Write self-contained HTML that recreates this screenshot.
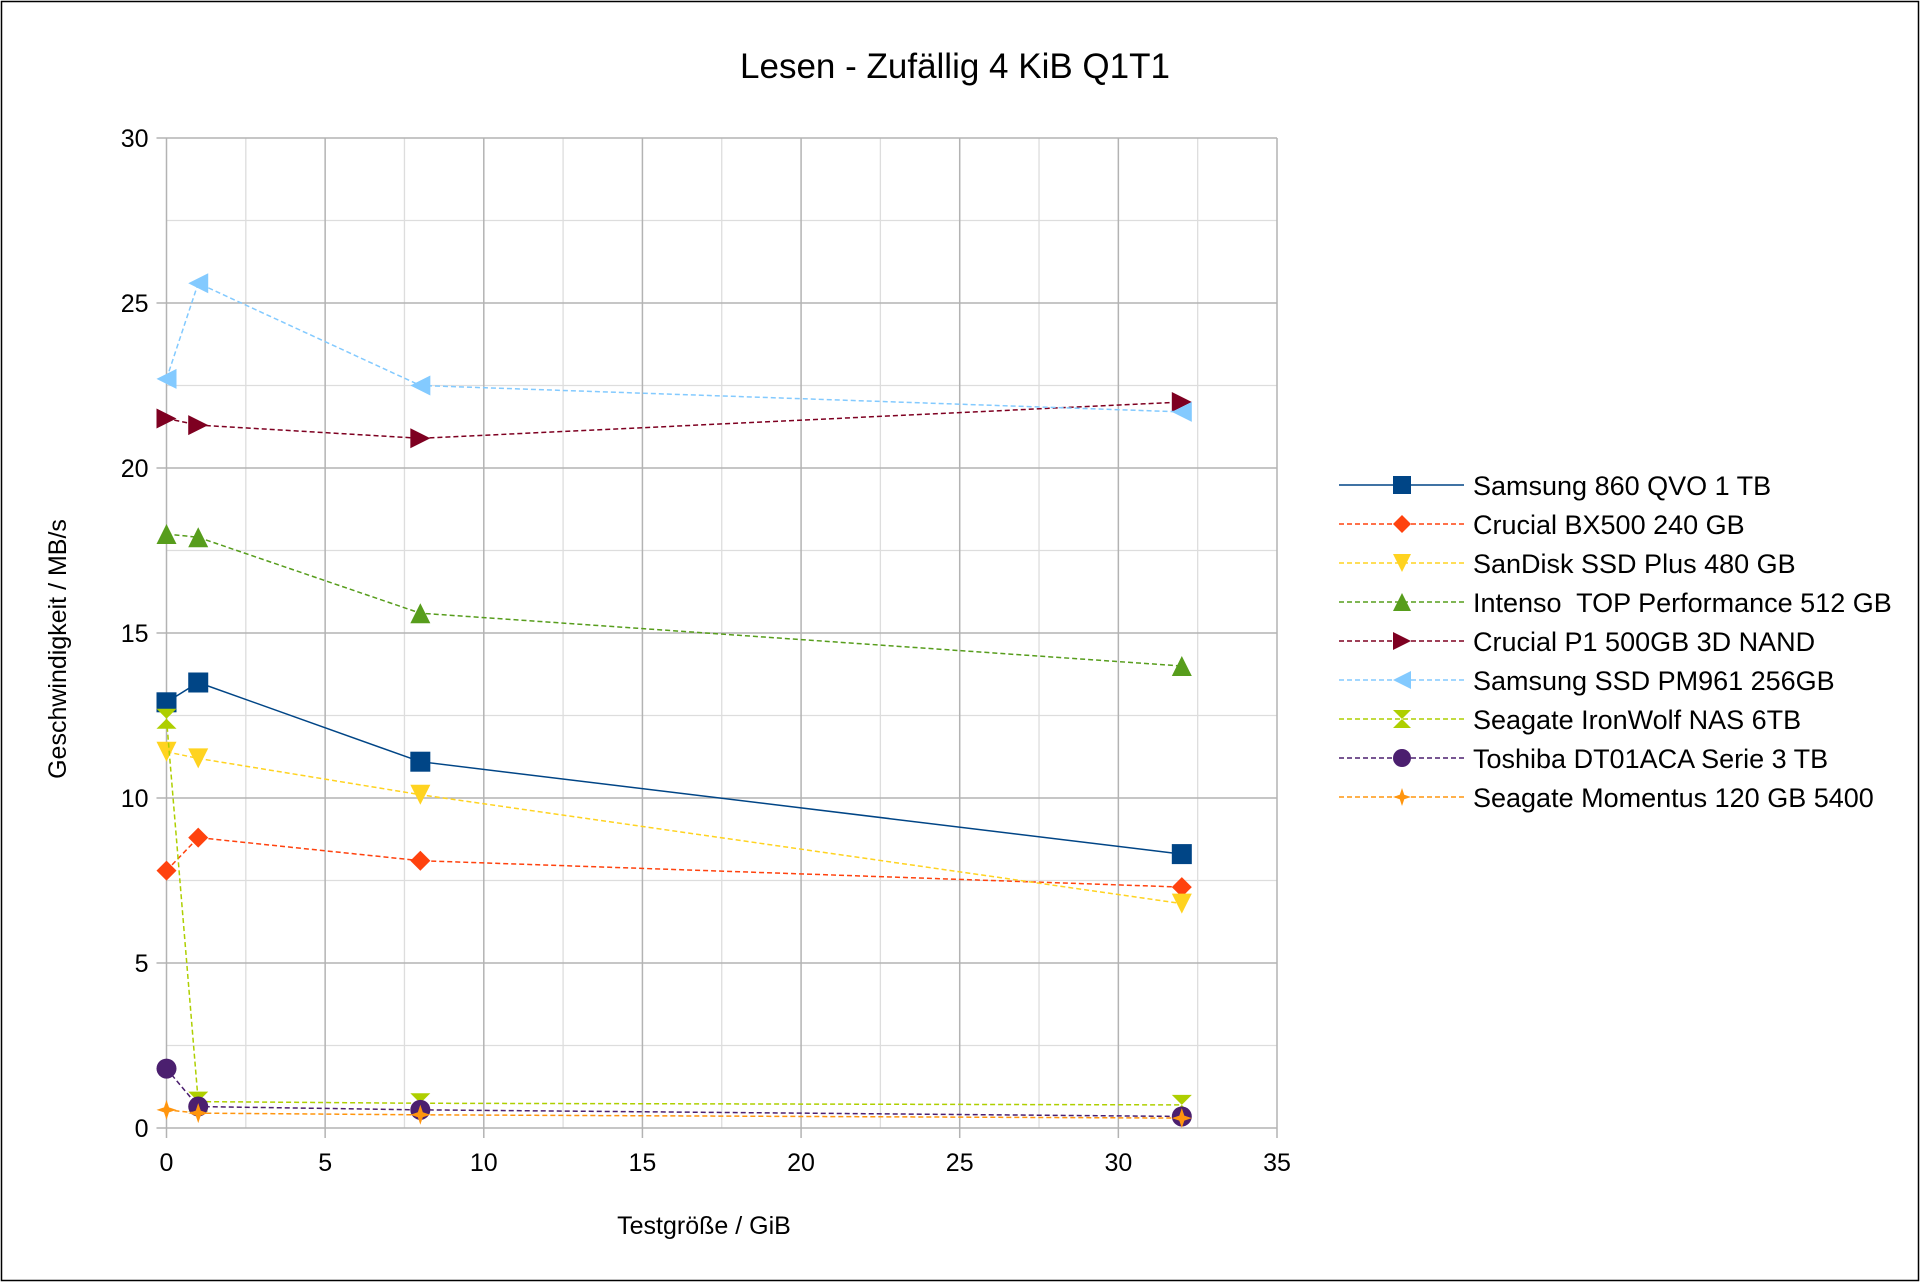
<!DOCTYPE html>
<html><head><meta charset="utf-8"><style>
body{margin:0;background:#fff}
svg text{font-family:"Liberation Sans",sans-serif;fill:#000}
</style></head><body>
<svg id="chart" width="1920" height="1282" xmlns="http://www.w3.org/2000/svg">
<rect x="1.5" y="1.5" width="1917" height="1279" fill="#fff" stroke="#000" stroke-width="1.5"/>
<text x="955" y="78" font-size="35" text-anchor="middle">Lesen - Zufällig 4 KiB Q1T1</text>
<g id="grid"></g><g id="axes"></g><g id="series"></g><g id="legend"></g>
<text transform="translate(66,649) rotate(-90)" font-size="25" text-anchor="middle">Geschwindigkeit / MB/s</text>
<text x="704" y="1234" font-size="25" text-anchor="middle">Testgröße / GiB</text>
</svg>
<script>
const xs=[0,1,8,32];
const names=["Samsung 860 QVO 1 TB","Crucial BX500 240 GB","SanDisk SSD Plus 480 GB","Intenso  TOP Performance 512 GB","Crucial P1 500GB 3D NAND","Samsung SSD PM961 256GB","Seagate IronWolf NAS 6TB","Toshiba DT01ACA Serie 3 TB","Seagate Momentus 120 GB 5400"];
const qvo=[12.9,13.5,11.1,8.3];
const bx500=[7.8,8.8,8.1,7.3];
const sandisk=[11.4,11.2,10.1,6.8];
const intenso=[18.0,17.9,15.6,14.0];
const p1=[21.5,21.3,20.9,22.0];
const pm961=[22.7,25.6,22.5,21.7];
const ironwolf=[12.4,0.8,0.75,0.7];
const toshiba=[1.8,0.65,0.55,0.35];
const momentus=[0.55,0.45,0.4,0.3];
const xTicks=[0,5,10,15,20,25,30,35];
const yTicks=[0,5,10,15,20,25,30];
const seriesData=[qvo,bx500,sandisk,intenso,p1,pm961,ironwolf,toshiba,momentus];
const colors=["#004586","#ff420e","#ffd320","#579d1c","#7e0021","#83caff","#aecf00","#4b1f6f","#ff950e"];
const shapes=["square","diamond","down","up","right","left","hourglass","circle","star"];
const X0=166.5,X1=1277,Y0=1128,Y1=138;
const sx=v=>X0+(v/35)*(X1-X0), sy=v=>Y0-(v/30)*(Y0-Y1);
const NS="http://www.w3.org/2000/svg";
function mk(t,a,p){const e=document.createElementNS(NS,t);for(const k in a)e.setAttribute(k,a[k]);p.appendChild(e);return e;}
const grid=document.getElementById('grid'),axes=document.getElementById('axes'),ser=document.getElementById('series'),leg=document.getElementById('legend');
for(let v=2.5;v<35;v+=5){const l=mk('line',{x1:sx(v),x2:sx(v),y1:Y1,y2:Y0,stroke:'#ddd','stroke-width':1.3},grid);}
for(let v=2.5;v<30;v+=5){const l=mk('line',{x1:X0,x2:X1,y1:sy(v),y2:sy(v),stroke:'#ddd','stroke-width':1.3},grid);}
xTicks.forEach(v=>{const l=mk('line',{x1:sx(v),x2:sx(v),y1:Y1,y2:Y0+10,stroke:'#b3b3b3','stroke-width':1.5},grid);
const t=mk('text',{x:sx(v),y:Y0+43,'font-size':25,'text-anchor':'middle'},axes);t.textContent=v;});
yTicks.forEach(v=>{const l=mk('line',{x1:X0-10,x2:X1,y1:sy(v),y2:sy(v),stroke:'#b3b3b3','stroke-width':1.5},grid);
const t=mk('text',{x:X0-18,y:sy(v)+9,'font-size':25,'text-anchor':'end'},axes);t.textContent=v;});
function marker(shape,cx,cy,c,p){const s=10;let e;
if(shape==='square')e=mk('rect',{x:cx-s,y:cy-s,width:2*s,height:2*s,fill:c},p);
else if(shape==='circle')e=mk('circle',{cx:cx,cy:cy,r:s,fill:c},p);
else{let pts;
if(shape==='diamond')pts=[[0,-s],[s,0],[0,s],[-s,0]];
else if(shape==='down')pts=[[-s,-s],[s,-s],[0,s]];
else if(shape==='up')pts=[[-s,s],[s,s],[0,-s]];
else if(shape==='right')pts=[[-s,-s],[s,0],[-s,s]];
else if(shape==='left')pts=[[s,-s],[-s,0],[s,s]];
else if(shape==='hourglass')pts=[[-s,-s],[s,-s],[-s,s],[s,s]];
else pts=[[0,-s],[2.5,-2.5],[s,0],[2.5,2.5],[0,s],[-2.5,2.5],[-s,0],[-2.5,-2.5]];
e=mk('polygon',{points:pts.map(q=>(cx+q[0])+','+(cy+q[1])).join(' '),fill:c},p);}
return e;}
seriesData.forEach((d,i)=>{const g=mk('g',{},ser);
const pl=mk('polyline',{points:xs.map((x,j)=>sx(x)+','+sy(d[j])).join(' '),fill:'none',stroke:colors[i],'stroke-width':1.5,'stroke-dasharray':i===0?'none':'5,3'},g);

xs.forEach((x,j)=>{const m=marker(shapes[i],sx(x),sy(d[j]),colors[i],g);});
const ly=485+i*39;const lg=mk('g',{},leg);
mk('line',{x1:1339,x2:1464,y1:ly,y2:ly,stroke:colors[i],'stroke-width':1.5,'stroke-dasharray':i===0?'none':'5,3'},lg);
const lm=marker(shapes[i],1402,ly,colors[i],lg);lm.setAttribute('transform',`translate(${1402*0.1},${ly*0.1}) scale(0.9)`);
const t=mk('text',{x:1473,y:ly+10,'font-size':27},lg);t.textContent=names[i];t.setAttribute('xml:space','preserve');t.style.whiteSpace='pre';});
</script>
</body></html>
